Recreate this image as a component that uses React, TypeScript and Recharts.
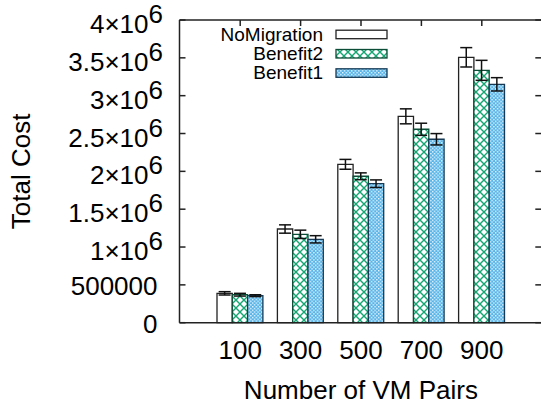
import React from "react";
import {
  BarChart,
  Bar,
  XAxis,
  YAxis,
  ErrorBar,
  Legend,
  Label,
} from "recharts";

const vmPairs = ["100", "300", "500", "700", "900"];
const noMigration = [388000, 1238000, 2093000, 2727000, 3507000];
const noMigrationErr = [22000, 55000, 65000, 99000, 128000];
const benefit2 = [370000, 1168000, 1935000, 2556000, 3335000];
const benefit2Err = [18000, 55000, 45000, 80000, 132000];
const benefit1 = [357000, 1102000, 1837000, 2424000, 3150000];
const benefit1Err = [12000, 48000, 50000, 75000, 88000];
const yTicks = [0, 500000, 1000000, 1500000, 2000000, 2500000, 3000000, 3500000, 4000000];

const data = vmPairs.map((p, i) => ({
  pairs: p,
  NoMigration: noMigration[i],
  noMigErr: noMigrationErr[i],
  Benefit2: benefit2[i],
  b2Err: benefit2Err[i],
  Benefit1: benefit1[i],
  b1Err: benefit1Err[i],
}));

const FONT = "'Liberation Sans', Arial, Helvetica, sans-serif";

const series = [
  { key: "NoMigration", fill: "#ffffff", stroke: "#222" },
  { key: "Benefit2", fill: "url(#hatchGreen)", stroke: "#0b4d36" },
  { key: "Benefit1", fill: "url(#checkBlue)", stroke: "#163a55" },
];

const YTick = (props: any) => {
  const { x, y, payload } = props;
  const v = payload.value as number;
  let label: React.ReactNode;
  if (v >= 1000000) {
    const m = v / 1000000;
    label = (
      <text x={x - 16.5} y={y + 13} textAnchor="end" fontSize={26} fontFamily={FONT} fill="#000">
        {m + "\u00d710"}
        <tspan dy={-10}>6</tspan>
      </text>
    );
  } else {
    label = (
      <text x={x - 22} y={y + 10} textAnchor="end" fontSize={26} fontFamily={FONT} fill="#000">
        {v}
      </text>
    );
  }
  return (
    <g>
      <line x1={x} x2={x + 6} y1={y} y2={y} stroke="#222" strokeWidth={1.5} />
      {label}
      {/* mirrored tick on the right border */}
      <line x1={535.3} x2={542.3} y1={y} y2={y} stroke="#222" strokeWidth={1.5} />
    </g>
  );
};

const XTick = (props: any) => {
  const { x, y, payload } = props;
  return (
    <text x={x} y={y + 36.6} textAnchor="middle" fontSize={26} fontFamily={FONT} fill="#000">
      {payload.value}
    </text>
  );
};

const TopTick = (props: any) => {
  const { x, y } = props;
  return <line x1={x} x2={x} y1={y} y2={y + 6} stroke="#222" strokeWidth={1.5} />;
};

const LegendBox = () => (
  <svg width={541} height={100} style={{ position: "absolute", left: 0, top: 0 }}>
    {series.map((s, i) => {
      const base = 40.7 + i * 19.3;
      return (
        <g key={s.key}>
          <text x={323} y={base} textAnchor="end" fontSize={19} fontFamily={FONT} fill="#000">
            {s.key}
          </text>
          <rect x={336} y={base - 10.5} width={51} height={8.5} fill={s.fill} stroke={s.stroke} strokeWidth={1.3} />
        </g>
      );
    })}
  </svg>
);

export default function App() {
  return (
    <div style={{ position: "absolute", left: 0, top: 0, width: 541, height: 406, overflow: "hidden", background: "#fff" }}>
      <BarChart
        width={550}
        height={406}
        data={data}
        margin={{ top: 19, right: 7.7, left: 178.5, bottom: 82.3 }}
        barGap={0}
        barSize={15.3}
      >
        <defs>
          <pattern id="hatchGreen" patternUnits="userSpaceOnUse" width={8} height={8}>
            <rect width={8} height={8} fill="#fff" />
            <path d="M0,0 L8,8 M8,0 L0,8" stroke="#14a573" strokeWidth={1.4} />
          </pattern>
          <pattern id="checkBlue" patternUnits="userSpaceOnUse" width={3.6} height={3.6}>
            <rect width={3.6} height={3.6} fill="#56b4e9" />
            <rect x={0} y={0} width={1.4} height={1.4} fill="#eef7fd" />
            <rect x={1.8} y={1.8} width={1.4} height={1.4} fill="#eef7fd" />
          </pattern>
        </defs>
        <XAxis
          dataKey="pairs"
          height={1}
          padding={{ left: 30.5, right: 30.3 }}
          tickSize={0}
          tickMargin={0}
          tickLine={false}
          tick={<XTick />}
          axisLine={{ stroke: "#222", strokeWidth: 1.5 }}
        >
          <Label
            value="Number of VM Pairs"
            position="bottom"
            offset={57}
            style={{ fontSize: 26, fontFamily: FONT, fill: "#000" }}
          />
        </XAxis>
        <XAxis
          xAxisId="top"
          dataKey="pairs"
          orientation="top"
          height={1}
          padding={{ left: 30.5, right: 30.3 }}
          tickSize={0}
          tickMargin={0}
          tickLine={false}
          tick={<TopTick />}
          axisLine={{ stroke: "#222", strokeWidth: 1.5 }}
        />
        <YAxis
          width={1}
          domain={[0, 4000000]}
          ticks={yTicks}
          interval={0}
          tickSize={0}
          tickMargin={0}
          tickLine={false}
          tick={<YTick />}
          axisLine={{ stroke: "#222", strokeWidth: 1.5 }}
        >
          <Label
            value="Total Cost"
            angle={-90}
            position="left"
            offset={158}
            style={{ fontSize: 26, fontFamily: FONT, fill: "#000", textAnchor: "middle" }}
          />
        </YAxis>
        <Legend verticalAlign="middle" align="center" layout="horizontal" content={() => <LegendBox />} wrapperStyle={{ position: "absolute", left: 0, top: 0 }} />
        {series.map((s, i) => (
          <Bar key={s.key} dataKey={s.key} fill={s.fill} stroke={s.stroke} strokeWidth={1.3} isAnimationActive={false}>
            <ErrorBar
              dataKey={["noMigErr", "b2Err", "b1Err"][i]}
              width={6}
              stroke="#111"
              strokeWidth={1.5}
            />
          </Bar>
        ))}
      </BarChart>
    </div>
  );
}
